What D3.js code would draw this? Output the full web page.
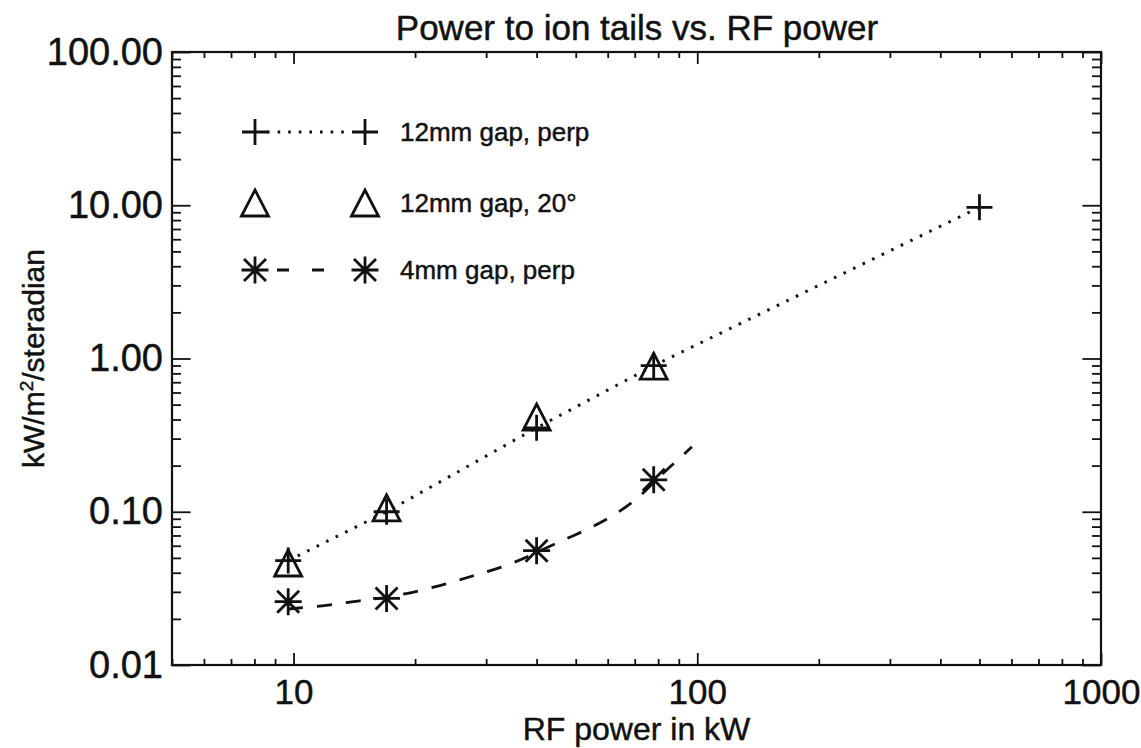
<!DOCTYPE html>
<html>
<head>
<meta charset="utf-8">
<script src="https://cdn.jsdelivr.net/npm/d3@7"></script>
<style>
  html, body { margin: 0; padding: 0; background: #fff; }
  svg { display: block; font-family: "Liberation Sans", Arial, Helvetica, sans-serif; }
  text { stroke: #111; stroke-width: 0.45px; }
</style>
</head>
<body>
<svg id="chart" width="1141" height="748"></svg>
<script>
// RF power (kW) for each measurement
const rfPower = [9.7, 17, 40, 78];
const rfPowerPerp12 = [9.7, 17, 40, 78, 500];

// Power to ion tails, kW/m^2/steradian
const perp12mm = [0.048, 0.100, 0.353, 0.898, 9.7];
const deg20_12mm = [0.0463, 0.106, 0.415, 0.891];
const perp4mm = [0.0259, 0.0272, 0.0557, 0.1616];

// Fitted trend for the 4mm gap data
const fit4mmPower = [9.7, 10.7, 12.4, 14.6, 17, 20.6, 24.7, 28.8, 34.0, 40, 46.4, 54.1, 62.5, 72.4, 78, 93.8, 97];
const fit4mmValue = [0.0232, 0.0237, 0.0247, 0.0263, 0.0275, 0.0305, 0.0346, 0.0393, 0.0446, 0.0542, 0.0651, 0.0776, 0.0951, 0.1256, 0.157, 0.244, 0.265];

const seriesNames = ["12mm gap, perp", "12mm gap, 20\u00B0", "4mm gap, perp"];
const xTickValues = [10, 100, 1000];
const yTickValues = [0.01, 0.1, 1, 10, 100];

const svg = d3.select("#chart");
const W = 1141, H = 748;
const margin = { left: 172, top: 52, right: 40, bottom: 83 };
const iw = W - margin.left - margin.right;
const ih = H - margin.top - margin.bottom;

const x = d3.scaleLog().domain([5, 1000]).range([0, iw]);
const y = d3.scaleLog().domain([0.01, 100]).range([ih, 0]);

const g = svg.append("g").attr("transform", `translate(${margin.left},${margin.top})`);
const ink = "#111";

// minor tick positions (2..9 of each decade)
const minorX = x.ticks().filter(v => !xTickValues.includes(v));
const minorY = y.ticks().filter(v => !yTickValues.includes(v));

const majLenX = 12, minLenX = 6, majLenY = 18.6, minLenY = 9;

function styleAxis(sel) {
  sel.select(".domain").remove();
  sel.selectAll("line").attr("stroke", ink).attr("stroke-width", 1.8);
  sel.selectAll("text").attr("fill", ink);
}

// bottom axis with labels
g.append("g").attr("transform", `translate(0,${ih})`)
  .call(d3.axisBottom(x).tickValues(xTickValues).tickFormat(d3.format("d"))
    .tickSizeInner(-majLenX).tickSizeOuter(0).tickPadding(14))
  .call(styleAxis)
  .selectAll("text").attr("font-size", 35);
g.append("g").attr("transform", `translate(0,${ih})`)
  .call(d3.axisBottom(x).tickValues(minorX).tickFormat("").tickSizeInner(-minLenX).tickSizeOuter(0))
  .call(styleAxis);
// top axis
g.append("g")
  .call(d3.axisTop(x).tickValues(xTickValues).tickFormat("").tickSizeInner(-majLenX).tickSizeOuter(0))
  .call(styleAxis);
g.append("g")
  .call(d3.axisTop(x).tickValues(minorX).tickFormat("").tickSizeInner(-minLenX).tickSizeOuter(0))
  .call(styleAxis);

// left axis with labels
g.append("g")
  .call(d3.axisLeft(y).tickValues(yTickValues).tickFormat(d3.format(".2f"))
    .tickSizeInner(-majLenY).tickSizeOuter(0).tickPadding(9))
  .call(styleAxis)
  .selectAll("text").attr("font-size", 38);
g.append("g")
  .call(d3.axisLeft(y).tickValues(minorY).tickFormat("").tickSizeInner(-minLenY).tickSizeOuter(0))
  .call(styleAxis);
// right axis
g.append("g").attr("transform", `translate(${iw},0)`)
  .call(d3.axisRight(y).tickValues(yTickValues).tickFormat("").tickSizeInner(-majLenY).tickSizeOuter(0))
  .call(styleAxis);
g.append("g").attr("transform", `translate(${iw},0)`)
  .call(d3.axisRight(y).tickValues(minorY).tickFormat("").tickSizeInner(-minLenY).tickSizeOuter(0))
  .call(styleAxis);

// plot frame
g.append("rect").attr("width", iw).attr("height", ih)
  .attr("fill", "none").attr("stroke", ink).attr("stroke-width", 2.2);

// marker shapes
const plusPath = "M-13,0H13M0,-13V13";
const triPath = "M-13.5,13L0,-13L13.5,13Z";
const starPath = "M-13.5,0H13.5M0,-13.5V13.5M-11,-11L11,11M-11,11L11,-11";

const dotted = "2.6,8";
const dashed = "15,14";

// 12mm perp: points joined by a dotted line
const perpData = rfPowerPerp12.map((p, i) => [p, perp12mm[i]]);
g.append("path").datum(perpData)
  .attr("d", d3.line().x(d => x(d[0])).y(d => y(d[1])))
  .attr("fill", "none").attr("stroke", ink).attr("stroke-width", 3)
  .attr("stroke-dasharray", dotted);

// 4mm perp: smooth dashed trend
const fitData = fit4mmPower.map((p, i) => [p, fit4mmValue[i]]);
g.append("path").datum(fitData)
  .attr("d", d3.line().curve(d3.curveBasis).x(d => x(d[0])).y(d => y(d[1])))
  .attr("fill", "none").attr("stroke", ink).attr("stroke-width", 2.8)
  .attr("stroke-dasharray", dashed);

function drawMarkers(xs, ys, shape) {
  g.append("g").selectAll("path").data(xs.map((p, i) => [p, ys[i]])).join("path")
    .attr("transform", d => `translate(${x(d[0])},${y(d[1])})`)
    .attr("d", shape)
    .attr("fill", "none").attr("stroke", ink).attr("stroke-width", 2.8);
}
drawMarkers(rfPower, deg20_12mm, triPath);
drawMarkers(rfPowerPerp12, perp12mm, plusPath);
drawMarkers(rfPower, perp4mm, starPath);

// legend
const legend = svg.append("g");
const legendRows = [
  { y: 132, shape: plusPath, dash: dotted, x1: 267, x2: 351 },
  { y: 203, shape: triPath, dash: null },
  { y: 270, shape: starPath, dash: "12,23", x1: 277, x2: 328 }
];
legendRows.forEach((r, i) => {
  if (r.dash) {
    legend.append("line").attr("x1", r.x1).attr("x2", r.x2).attr("y1", r.y).attr("y2", r.y)
      .attr("stroke", ink).attr("stroke-width", 3).attr("stroke-dasharray", r.dash);
  }
  [255, 365].forEach(cx => {
    legend.append("path").attr("d", r.shape).attr("transform", `translate(${cx},${r.y})`)
      .attr("fill", "none").attr("stroke", ink).attr("stroke-width", 2.8);
  });
  legend.append("text").attr("x", 400).attr("y", r.y).attr("dy", "0.35em")
    .attr("font-size", 26).attr("fill", ink).text(seriesNames[i]);
});

// titles
svg.append("text").attr("x", 637).attr("y", 40).attr("text-anchor", "middle")
  .attr("font-size", 35).attr("fill", ink).text("Power to ion tails vs. RF power");
svg.append("text").attr("x", margin.left + iw / 2).attr("y", 740).attr("text-anchor", "middle")
  .attr("font-size", 32).attr("fill", ink).text("RF power in kW");

const yt = svg.append("text").attr("transform", `translate(44,${margin.top + ih / 2}) rotate(-90)`)
  .attr("text-anchor", "middle").attr("font-size", 30).attr("fill", ink);
yt.append("tspan").text("kW/m");
yt.append("tspan").attr("font-size", 19).attr("dy", "-0.6em").text("2");
yt.append("tspan").attr("dy", "0.38em").text("/steradian");
</script>
</body>
</html>
